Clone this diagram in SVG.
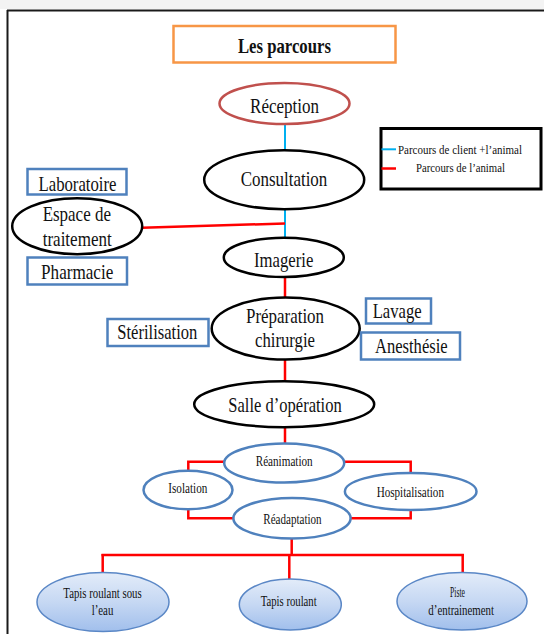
<svg xmlns="http://www.w3.org/2000/svg" width="544" height="634" viewBox="0 0 544 634">
<defs>
<linearGradient id="lb" x1="0" y1="0" x2="0" y2="1">
<stop offset="0" stop-color="#e3ecf9"/>
<stop offset="0.5" stop-color="#c6d8f3"/>
<stop offset="1" stop-color="#a1bfec"/>
</linearGradient>
<style>
text{font-family:"Liberation Serif","Times New Roman",serif;fill:#111;text-anchor:middle}
.big{font-size:22px}
.mid{font-size:21px}
.sm{font-size:14px}
.lg{font-size:12px;text-anchor:start}
.blk{fill:#fff;stroke:#000;stroke-width:2.5}
.box{fill:#fff;stroke:#4f81bd;stroke-width:2.5}
.bel{fill:#fff;stroke:#4f81bd;stroke-width:2.5}
.grad{fill:url(#lb);stroke:#5a87c6;stroke-width:1.5}
.red{stroke:#ff0000;stroke-width:2.5;fill:none}
.blue{stroke:#00b0f0;stroke-width:2;fill:none}
</style>
</defs>
<rect x="0" y="0" width="544" height="634" fill="#fff"/>
<rect x="0" y="0" width="544" height="9" fill="#f3f3f3"/>
<g id="frame">
<line x1="7" y1="10.5" x2="544" y2="10.5" stroke="#1a1a1a" stroke-width="2"/>
<line x1="7.5" y1="10" x2="7.5" y2="634" stroke="#1a1a1a" stroke-width="2"/>
</g>

<g id="connectors">
<line class="blue" x1="285" y1="124" x2="285" y2="150"/>
<line class="blue" x1="285" y1="209" x2="285" y2="238"/>
<line class="red" x1="142" y1="227.7" x2="285" y2="223.5"/>
<line class="red" x1="285" y1="277" x2="285" y2="297"/>
<line class="red" x1="285" y1="360" x2="285" y2="381"/>
<line class="red" x1="285" y1="427" x2="285" y2="443"/>
<polyline class="red" points="224,461.7 188.3,461.7 188.3,471"/>
<polyline class="red" points="345,461.7 410.7,461.7 410.7,473"/>
<polyline class="red" points="188.3,509 188.3,518.3 234,518.3"/>
<polyline class="red" points="410.7,510 410.7,518.3 351,518.3"/>
<line class="red" x1="291.7" y1="538" x2="291.7" y2="555"/>
<line class="red" x1="101.5" y1="555" x2="463.9" y2="555"/>
<line class="red" x1="102.7" y1="554" x2="102.7" y2="573"/>
<line class="red" x1="289.3" y1="554" x2="289.3" y2="580"/>
<line class="red" x1="462.7" y1="554" x2="462.7" y2="573"/>
</g>

<g id="title">
<rect x="173.5" y="26" width="222" height="36.5" fill="#fff" stroke="#f79646" stroke-width="2.5"/>
<text x="284.4" y="52.5" style="font-size:21px;font-weight:bold" textLength="93" lengthAdjust="spacingAndGlyphs">Les parcours</text>
</g>

<g id="reception">
<ellipse cx="284.5" cy="103.5" rx="65" ry="20.5" fill="#fff" stroke="#c0504d" stroke-width="2.5"/>
<text class="big" x="284.6" y="112.8" textLength="69" lengthAdjust="spacingAndGlyphs">Réception</text>
</g>

<g id="legend">
<rect x="381" y="128.5" width="160" height="60.5" fill="#fff" stroke="#000" stroke-width="3"/>
<line class="blue" x1="381.5" y1="149.3" x2="396" y2="149.3" stroke-width="2.5"/>
<text class="lg" x="398" y="153.5" textLength="124" lengthAdjust="spacingAndGlyphs">Parcours de client +l’animal</text>
<line x1="381.5" y1="168.5" x2="396" y2="168.5" stroke="#ff0000" stroke-width="2.5"/>
<text class="lg" x="416" y="172" textLength="89" lengthAdjust="spacingAndGlyphs">Parcours de l’animal</text>
</g>

<g id="consultation">
<ellipse class="blk" cx="284.2" cy="179.7" rx="80" ry="29.5"/>
<text class="big" x="284" y="186" textLength="86.6" lengthAdjust="spacingAndGlyphs">Consultation</text>
</g>

<g id="laboratoire">
<rect class="box" x="27.5" y="169" width="99" height="25.5"/>
<text class="big" x="77.5" y="190.5" textLength="78" lengthAdjust="spacingAndGlyphs">Laboratoire</text>
</g>

<g id="espace">
<ellipse class="blk" cx="77.2" cy="226.2" rx="65" ry="28"/>
<text class="mid" x="76.8" y="221" textLength="68.3" lengthAdjust="spacingAndGlyphs">Espace de</text>
<text class="mid" x="77.2" y="246" textLength="69" lengthAdjust="spacingAndGlyphs">traitement</text>
</g>

<g id="pharmacie">
<rect class="box" x="27.5" y="257.5" width="99.5" height="27"/>
<text class="big" x="77.2" y="279.3" textLength="72.3" lengthAdjust="spacingAndGlyphs">Pharmacie</text>
</g>

<g id="imagerie">
<ellipse class="blk" cx="283.8" cy="257.4" rx="60" ry="19.6"/>
<text class="big" x="283.7" y="266.7" textLength="59.3" lengthAdjust="spacingAndGlyphs">Imagerie</text>
</g>

<g id="preparation">
<ellipse class="blk" cx="285.7" cy="328.6" rx="74" ry="31"/>
<text class="big" x="285" y="323.3" textLength="78" lengthAdjust="spacingAndGlyphs">Préparation</text>
<text class="big" x="285" y="346.7" textLength="60" lengthAdjust="spacingAndGlyphs">chirurgie</text>
</g>

<g id="lavage">
<rect class="box" x="366" y="298.5" width="65" height="25"/>
<text class="big" x="397.2" y="318.3" textLength="49" lengthAdjust="spacingAndGlyphs">Lavage</text>
</g>

<g id="sterilisation">
<rect class="box" x="107.5" y="319" width="101" height="27"/>
<text class="big" x="157.3" y="339.3" textLength="80" lengthAdjust="spacingAndGlyphs">Stérilisation</text>
</g>

<g id="anesthesie">
<rect class="box" x="361" y="332.5" width="99" height="27"/>
<text class="big" x="411.3" y="353.3" textLength="72.7" lengthAdjust="spacingAndGlyphs">Anesthésie</text>
</g>

<g id="salle">
<ellipse class="blk" cx="284.2" cy="404.2" rx="90" ry="23"/>
<text class="big" x="285" y="411.7" textLength="113.4" lengthAdjust="spacingAndGlyphs">Salle d’opération</text>
</g>

<g id="reanimation">
<ellipse class="bel" cx="284.2" cy="463" rx="60" ry="19.5"/>
<text class="sm" x="284.2" y="465.7" textLength="57" lengthAdjust="spacingAndGlyphs">Réanimation</text>
</g>

<g id="isolation">
<ellipse class="bel" cx="188" cy="490" rx="44.5" ry="19.2"/>
<text class="sm" x="187.8" y="493.3" textLength="39" lengthAdjust="spacingAndGlyphs">Isolation</text>
</g>

<g id="hospitalisation">
<ellipse class="bel" cx="410.7" cy="491.5" rx="65.8" ry="18.5"/>
<text class="sm" x="410.3" y="497.3" textLength="67.3" lengthAdjust="spacingAndGlyphs">Hospitalisation</text>
</g>

<g id="readaptation">
<ellipse class="bel" cx="292" cy="518.3" rx="58.6" ry="20.2"/>
<text class="sm" x="292.5" y="524" textLength="58.3" lengthAdjust="spacingAndGlyphs">Réadaptation</text>
</g>

<g id="tapis-eau">
<ellipse class="grad" cx="103" cy="602" rx="66" ry="29.5"/>
<text class="sm" x="102.5" y="597.7" textLength="78.3" lengthAdjust="spacingAndGlyphs">Tapis roulant sous</text>
<text class="sm" x="102.5" y="615" textLength="21.6" lengthAdjust="spacingAndGlyphs">l’eau</text>
</g>

<g id="tapis">
<ellipse class="grad" cx="290.3" cy="604.5" rx="51" ry="25.5"/>
<text class="sm" x="288.7" y="606" textLength="56" lengthAdjust="spacingAndGlyphs">Tapis roulant</text>
</g>

<g id="piste">
<ellipse class="grad" cx="462" cy="601.3" rx="65" ry="28.8"/>
<text class="sm" x="457.5" y="596.7" textLength="15" lengthAdjust="spacingAndGlyphs">Piste</text>
<text class="sm" x="461.2" y="615" textLength="65.7" lengthAdjust="spacingAndGlyphs">d’entrainement</text>
</g>
</svg>
